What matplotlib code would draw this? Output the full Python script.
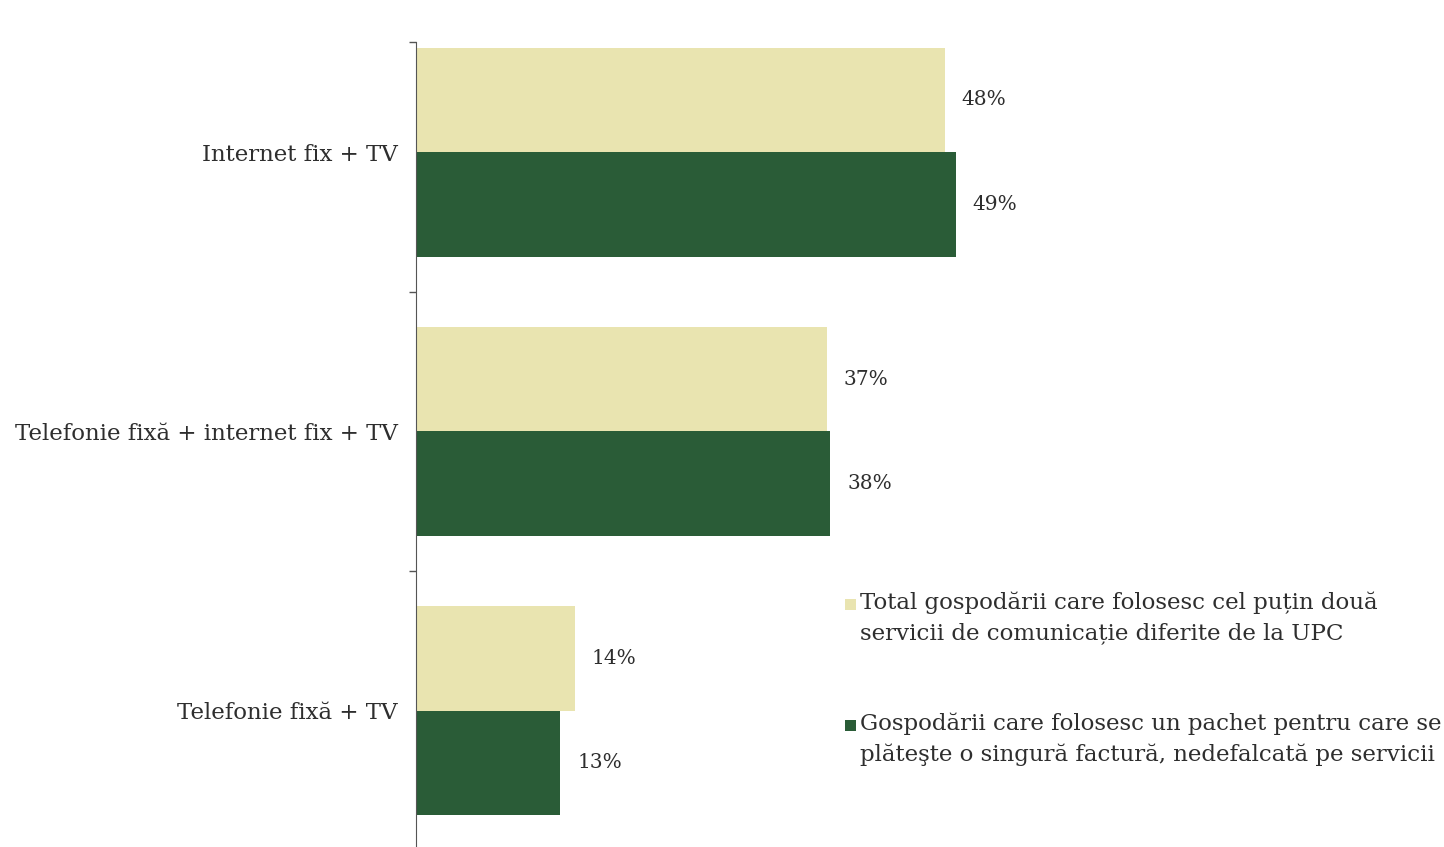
import matplotlib.pyplot as plt
from matplotlib.patches import Rectangle
import numpy as np

categories = ["Internet fix + TV", "Telefonie fixă + internet fix + TV", "Telefonie fixă + TV"]
total_vals = [48.0, 37.3, 14.4]
package_vals = [49.0, 37.6, 13.1]
series_labels = [
    "Total gospodării care folosesc cel puțin două\nservicii de comunicație diferite de la UPC",
    "Gospodării care folosesc un pachet pentru care se\nplăteşte o singură factură, nedefalcată pe servicii",
]
colors = ["#E9E4B0", "#2A5C37"]

plt.rcParams["font.family"] = ["DejaVu Serif", "Liberation Serif"]
text_color = "#2E2E2E"

fig = plt.figure(figsize=(14.44, 8.47), dpi=100)
ax = fig.add_axes([416 / 1444, 0.0, 1 - 416 / 1444, (847 - 42) / 847])

y = np.arange(len(categories))
h = 0.375
ax.barh(y - h / 2, total_vals, height=h, color=colors[0], label=series_labels[0])
ax.barh(y + h / 2, package_vals, height=h, color=colors[1], label=series_labels[1])

for i in range(len(categories)):
    for off, vals in ((-h / 2, total_vals), (h / 2, package_vals)):
        ax.annotate(f"{vals[i]:.0f}%", (vals[i], y[i] + off), xytext=(12, 0),
                    textcoords="offset points", va="center", ha="left",
                    fontsize=14.5, color=text_color)

ytop = -0.395
ax.set_ylim(2.489, ytop)
ax.set_xlim(0, 1028 / 11.02)

ax.set_yticks([ytop, 0.5, 1.5])
ax.set_yticklabels([])
ax.tick_params(axis="y", which="major", length=5, width=1, color="#555555")
ax.set_yticks(y, minor=True)
ax.set_yticklabels(categories, minor=True, fontsize=16.5, color=text_color)
ax.tick_params(axis="y", which="minor", length=0, pad=13)
ax.set_xticks([])

for s in ("top", "right", "bottom"):
    ax.spines[s].set_visible(False)
ax.spines["left"].set_color("#555555")

# legend drawn by hand so the square sits beside the first line
legend_y = [604, 725]
for lab, col, ly in zip(series_labels, colors, legend_y):
    fig.patches.append(Rectangle((845 / 1444, 1 - (ly + 6) / 847), 11 / 1444, 11 / 847,
                                 transform=fig.transFigure, facecolor=col, edgecolor="none"))
    fig.text(860 / 1444, 1 - (ly - 13) / 847, lab, ha="left", va="top",
             fontsize=16.5, color=text_color, linespacing=1.5)

fig.savefig("out.png", dpi=100)
